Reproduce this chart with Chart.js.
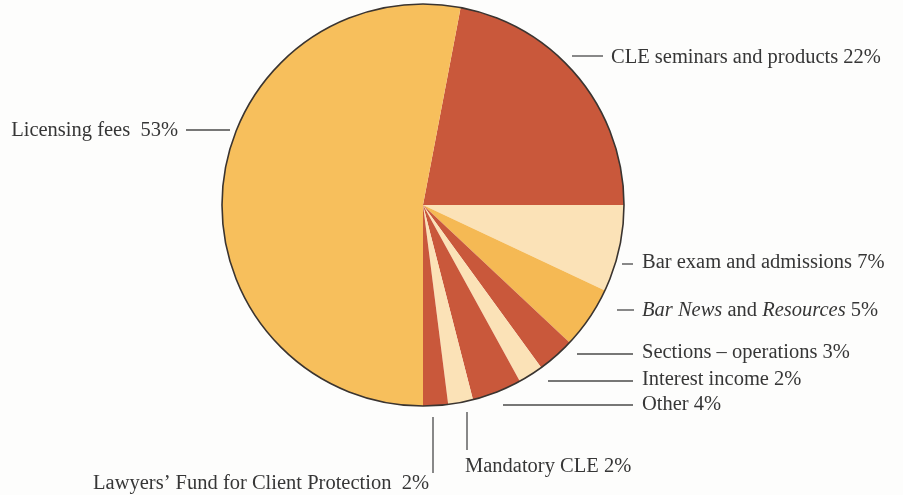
<!DOCTYPE html>
<html>
<head>
<meta charset="utf-8">
<script src="https://cdn.jsdelivr.net/npm/chart.js@4.4.0/dist/chart.umd.min.js"></script>
<style>
  html, body { margin: 0; padding: 0; background: #fdfdfc; }
  #wrap { width: 903px; height: 495px; }
</style>
</head>
<body>
<div id="wrap"><canvas id="myChart" width="903" height="495"></canvas></div>
<script>
// revenue shares, clockwise from CLE
var categories = [
    'CLE seminars and products',
    'Bar exam and admissions',
    'Bar News and Resources',
    'Sections \u2013 operations',
    'Interest income',
    'Other',
    'Mandatory CLE',
    'Lawyers\u2019 Fund for Client Protection',
    'Licensing fees'
];
var shares = [22, 7, 5, 3, 2, 4, 2, 2, 53];
var italicWords = ['Bar News', 'Resources'];

var RED = '#c9583b', CREAM = '#fbe2b7', GOLD = '#f7bf5c', GOLD2 = '#f5b954';
var sliceColors = [RED, CREAM, GOLD2, RED, CREAM, RED, CREAM, RED, GOLD];

// where each label and its leader line go (annotation layout)
var labelLayout = [
    { tx: 611, ty: 58,  align: 'left',  line: [572, 56, 603, 56] },
    { tx: 642, ty: 263, align: 'left',  line: [622, 264, 633, 264] },
    { tx: 642, ty: 311, align: 'left',  line: [617, 310, 634, 310] },
    { tx: 642, ty: 353, align: 'left',  line: [577, 354, 633, 354] },
    { tx: 642, ty: 380, align: 'left',  line: [548, 381, 633, 381] },
    { tx: 642, ty: 405, align: 'left',  line: [503, 405, 633, 405] },
    { tx: 465, ty: 467, align: 'left',  line: [467, 412, 467, 450] },
    { tx: 429, ty: 484, align: 'right', line: [433, 417, 433, 473] },
    { tx: 178, ty: 131, align: 'right', line: [186, 130, 230, 130] }
];
var FONT = '"Liberation Serif", "Times New Roman", serif';
var FSIZE = 20.5;

function labelParts(i) {
    var gap = (i === 7 || i === 8) ? '\u2002' : ' ';
    var name = categories[i];
    var parts = [];
    var rest = name;
    while (rest.length) {
        var hit = -1, word = null;
        italicWords.forEach(function (w) {
            var k = rest.indexOf(w);
            if (k >= 0 && (hit < 0 || k < hit)) { hit = k; word = w; }
        });
        if (hit < 0) { parts.push({ t: rest, it: false }); break; }
        if (hit > 0) parts.push({ t: rest.slice(0, hit), it: false });
        parts.push({ t: word, it: true });
        rest = rest.slice(hit + word.length);
    }
    parts.push({ t: gap + shares[i] + '%', it: false });
    return parts;
}

var pieLabels = {
    id: 'pieLabels',
    afterDatasetsDraw: function (chart) {
        var c = chart.ctx;
        var arc = chart.getDatasetMeta(0).data[0];
        c.save();
        // thin outline round the pie
        c.beginPath();
        c.arc(arc.x, arc.y, arc.outerRadius, 0, Math.PI * 2);
        c.lineWidth = 1.6;
        c.strokeStyle = '#3a3430';
        c.stroke();

        c.strokeStyle = '#4a4a4a';
        c.fillStyle = '#363636';
        c.lineWidth = 1.3;
        c.textBaseline = 'middle';
        labelLayout.forEach(function (L, i) {
            c.beginPath();
            c.moveTo(L.line[0], L.line[1]);
            c.lineTo(L.line[2], L.line[3]);
            c.stroke();
            var parts = labelParts(i);
            var widths = parts.map(function (p) {
                c.font = (p.it ? 'italic ' : '') + FSIZE + 'px ' + FONT;
                return c.measureText(p.t).width;
            });
            var total = widths.reduce(function (a, b) { return a + b; }, 0);
            var x = L.align === 'right' ? L.tx - total : L.tx;
            parts.forEach(function (p, k) {
                c.font = (p.it ? 'italic ' : '') + FSIZE + 'px ' + FONT;
                c.textAlign = 'left';
                c.fillText(p.t, x, L.ty);
                x += widths[k];
            });
        });
        c.restore();
    }
};

var ctx = document.getElementById('myChart').getContext('2d');
var myChart = new Chart(ctx, {
    type: 'pie',
    data: {
        labels: categories,
        datasets: [{
            data: shares,
            backgroundColor: sliceColors,
            borderWidth: 0
        }]
    },
    options: {
        responsive: false,
        animation: false,
        rotation: 90 - shares[0] * 3.6,
        layout: { padding: { left: 222, right: 279, top: 4, bottom: 89 } },
        plugins: {
            legend: { display: false },
            tooltip: { enabled: false }
        }
    },
    plugins: [pieLabels]
});
</script>
</body>
</html>
